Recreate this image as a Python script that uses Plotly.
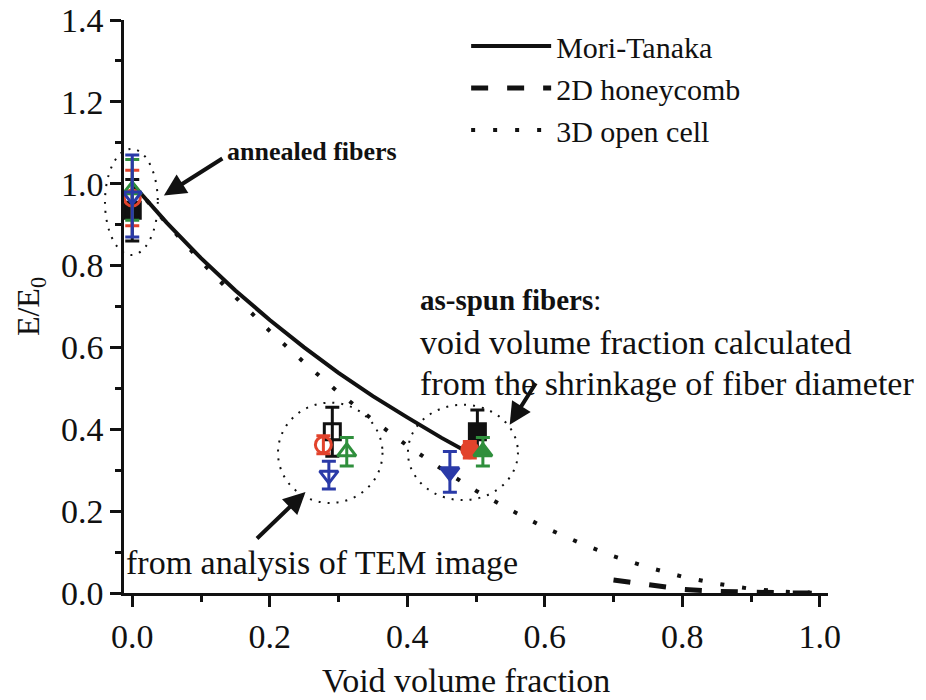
import plotly.graph_objects as go

# ---------------- data ----------------
# model curves
mt_x = [0.0, 0.05, 0.10, 0.15, 0.20, 0.25, 0.30, 0.35, 0.40, 0.45, 0.50]
mt_y = [1.0, 0.905, 0.818, 0.739, 0.667, 0.600, 0.538, 0.481, 0.429, 0.379, 0.333]

hc_x = [0.70, 0.75, 0.80, 0.85, 0.90, 0.95, 1.00]
hc_y = [0.032, 0.019, 0.009, 0.004, 0.0015, 0.0003, 0.0]

oc_x = [0.0, 0.05, 0.10, 0.15, 0.20, 0.25, 0.30, 0.35, 0.40, 0.45, 0.50,
        0.55, 0.60, 0.65, 0.70, 0.75, 0.80, 0.85, 0.90, 0.95, 1.00]
oc_y = [1.0, 0.903, 0.810, 0.723, 0.640, 0.563, 0.490, 0.423, 0.360, 0.303, 0.250,
        0.203, 0.160, 0.123, 0.090, 0.063, 0.040, 0.023, 0.010, 0.003, 0.0]

# measured points (annealed, TEM, shrinkage) for four sample series
black_x = [0.0, 0.291, 0.502]
black_y = [0.935, 0.394, 0.394]
black_err = [0.075, 0.060, 0.053]

red_x = [0.0, 0.278, 0.491]
red_y = [0.965, 0.362, 0.350]
red_err = [0.068, 0.022, 0.020]

green_x = [0.0, 0.312, 0.510]
green_y = [0.985, 0.345, 0.345]
green_err = [0.074, 0.035, 0.035]

blue_x = [0.0, 0.286, 0.462]
blue_y = [0.970, 0.288, 0.296]
blue_err = [0.100, 0.034, 0.050]

x_ticks = [0.0, 0.2, 0.4, 0.6, 0.8, 1.0]
y_ticks = [0.0, 0.2, 0.4, 0.6, 0.8, 1.0, 1.2, 1.4]

FONT = "Times New Roman, Liberation Serif, DejaVu Serif, serif"
BLACK = "#111111"
RED = "#e2432c"
GREEN = "#2f8f3c"
BLUE = "#2a3aa8"

fig = go.Figure()

# model curves
fig.add_trace(go.Scatter(x=mt_x, y=mt_y, mode="lines", name="Mori-Tanaka",
                         legendgroup="a",
                         line=dict(color=BLACK, width=4)))
fig.add_trace(go.Scatter(x=hc_x, y=hc_y, mode="lines", name="2D honeycomb",
                         legendgroup="b",
                         line=dict(color=BLACK, width=5, dash="17px,19px")))
fig.add_trace(go.Scatter(x=oc_x, y=oc_y, mode="lines", name="3D open cell",
                         legendgroup="c",
                         line=dict(color=BLACK, width=4, dash="4px,18px")))


def add_points(xs, ys, errs, color, base):
    symbols = [base + "-open", base + "-open", base]
    if base == "square":
        symbols = ["square", "square-open", "square"]
    fig.add_trace(go.Scatter(
        x=xs, y=ys, mode="markers", showlegend=False,
        marker=dict(symbol=symbols, size=16, color=color,
                    line=dict(color=color, width=3)),
        error_y=dict(type="data", array=errs, color=color,
                     thickness=3, width=7),
    ))


add_points(black_x, black_y, black_err, BLACK, "square")
add_points(red_x, red_y, red_err, RED, "circle")
add_points(green_x, green_y, green_err, GREEN, "triangle-up")
add_points(blue_x, blue_y, blue_err, BLUE, "triangle-down")

# dotted ellipses around the groups
ell = dict(type="circle", line=dict(color=BLACK, width=2, dash="2px,7px"),
           layer="above")
fig.add_shape(xref="paper", yref="paper", x0=-0.027, x1=0.048, y0=0.59, y1=0.775, **ell)
fig.add_shape(xref="x", yref="y", x0=0.212, x1=0.364, y0=0.22, y1=0.465, **ell)
fig.add_shape(xref="x", yref="y", x0=0.401, x1=0.561, y0=0.227, y1=0.46, **ell)

arrow = dict(showarrow=True, arrowhead=2, arrowsize=1.1, arrowwidth=4,
             arrowcolor=BLACK, axref="pixel", ayref="pixel", text="")

fig.add_annotation(x=0.046, y=0.971, ax=60, ay=-38, **arrow)
fig.add_annotation(x=0.549, y=0.411, ax=27, ay=-43, **arrow)
fig.add_annotation(x=0.252, y=0.247, ax=-50, ay=48, **arrow)

texts = [
    ("<b>annealed fibers</b>", 225, 151, 26),
    ("<b>as-spun fibers</b>:", 418, 300, 29),
    ("void volume fraction calculated", 418, 343, 34),
    ("from the shrinkage of fiber diameter", 418, 384, 34),
    ("from analysis of TEM image", 124, 562, 34),
]
for t, px, py, fs in texts:
    fig.add_annotation(xref="paper", yref="paper",
                       x=(px - 124) / 704, y=(593 - py) / 573,
                       xanchor="left", yanchor="middle", text=t,
                       showarrow=False,
                       font=dict(family=FONT, size=fs, color=BLACK))

# x-axis title placed below the tick labels
fig.add_annotation(xref="paper", yref="paper", x=(466 - 124) / 704,
                   y=(593 - 680) / 573, xanchor="center", yanchor="middle",
                   text="Void volume fraction", showarrow=False,
                   font=dict(family=FONT, size=34, color=BLACK))

axis_common = dict(showgrid=False, zeroline=False, showline=True,
                   linecolor=BLACK, linewidth=2.5, ticks="outside",
                   ticklen=11, tickwidth=2.5, tickcolor=BLACK,
                   tickfont=dict(family=FONT, size=34, color=BLACK),
                   mirror=False, automargin=False)

fig.update_xaxes(range=[-0.012, 1.012], tickvals=x_ticks,
                 ticktext=[f"{v:.1f}" for v in x_ticks],
                 minor=dict(dtick=0.1, tick0=0, ticklen=6, tickwidth=2.5,
                            tickcolor=BLACK, ticks="outside"),
                 **axis_common)
fig.update_yaxes(range=[0, 1.4], tickvals=y_ticks,
                 ticktext=[f"{v:.1f}" for v in y_ticks],
                 minor=dict(dtick=0.1, tick0=0, ticklen=6, tickwidth=2.5,
                            tickcolor=BLACK, ticks="outside"),
                 title=dict(text="E/E<sub>0</sub>",
                            font=dict(family=FONT, size=32, color=BLACK),
                            standoff=12),
                 **axis_common)

fig.update_layout(
    width=926, height=700,
    margin=dict(l=124, r=98, t=20, b=107),
    paper_bgcolor="white", plot_bgcolor="white",
    font=dict(family=FONT, color=BLACK),
    showlegend=True,
    legend=dict(x=0.486, y=1.0, xanchor="left", yanchor="top",
                bgcolor="rgba(0,0,0,0)", borderwidth=0,
                font=dict(family=FONT, size=30, color=BLACK),
                traceorder="grouped", tracegroupgap=0, itemwidth=80),
)

fig.write_html("out.html")
